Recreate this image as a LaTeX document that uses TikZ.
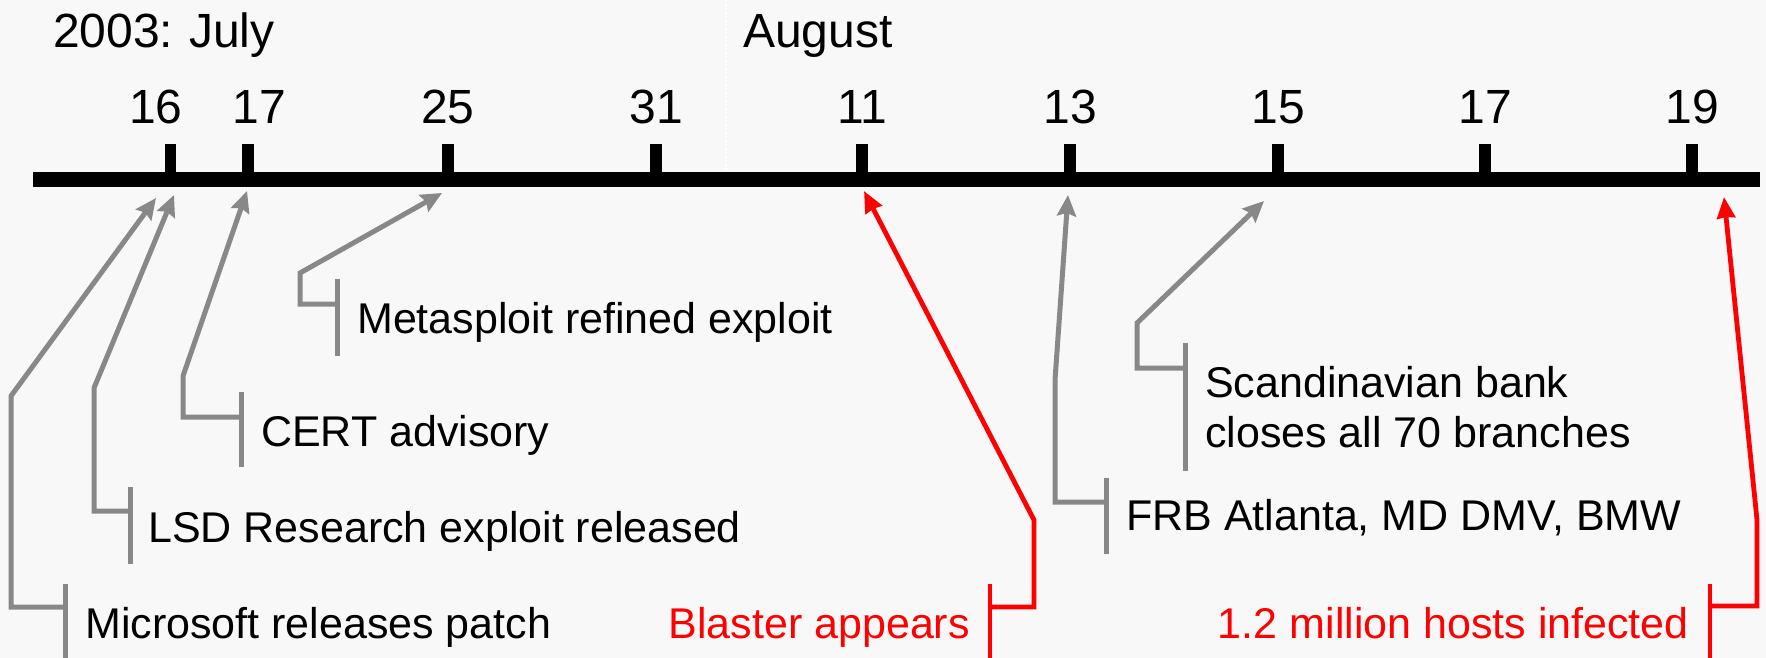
\documentclass[tikz,border=0pt]{standalone}
\usepackage{fontspec}
\setmainfont{Liberation Sans}
\usetikzlibrary{arrows.meta}
\definecolor{bg}{HTML}{F8F8F8}
\definecolor{lead}{HTML}{888888}
\definecolor{alert}{HTML}{FF0000}
\begin{document}
\begin{tikzpicture}[x=1pt,y=-1pt,
  heading/.style={font=\fontsize{48}{56}\selectfont, anchor=base west, inner sep=0pt},
  daynum/.style={font=\fontsize{48}{56}\selectfont, anchor=base, inner sep=0pt},
  evt/.style={font=\fontsize{43}{50}\selectfont, anchor=base west, inner sep=0pt, align=left},
  evtred/.style={evt, anchor=base east, text=alert},
  tick/.style={fill=black, draw=none, minimum width=11.5pt, minimum height=36pt, inner sep=0pt, anchor=north},
  bracket/.style={line width=5pt, draw=lead},
  pointer/.style={line width=5pt, draw=lead, -{Stealth[length=21pt,width=19pt,inset=3pt]}},
  bracketred/.style={line width=4.8pt, draw=alert},
  pointerred/.style={line width=4.8pt, draw=alert, -{Stealth[length=21pt,width=18pt,inset=1pt]}},
]
\useasboundingbox (0,0) rectangle (1766,658);
\fill[bg] (0,0) rectangle (1766,658);

% month boundary
\draw[white, line width=2pt, dotted] (726,0) -- (726,172);

% headings
\node[heading] (year) at (53,48) {2003:\kern-2pt{} July};
\node[heading] (aug) at (743,48) {August};

% timeline bar and ticks
\coordinate (barL) at (33,179.5);
\coordinate (barR) at (1760,179.5);
\draw[line width=15pt] (barL) -- (barR);
\foreach \n/\x in {t16/170.5, t17/248, t25/448, t31/656, a11/862, a13/1070, a15/1278, a17/1485, a19/1692}
  \node[tick] (\n) at (\x,144) {};

% day numbers
\node[daynum] (d16) at (156,124) {16};
\node[daynum] (d17) at (259.5,124) {17};
\node[daynum] (d25) at (448,124) {25};
\node[daynum] (d31) at (656,124) {31};
\node[daynum] (e11) at (862,124) {11};
\node[daynum] (e13) at (1070,124) {13};
\node[daynum] (e15) at (1278,124) {15};
\node[daynum] (e17) at (1485,124) {17};
\node[daynum] (e19) at (1692,124) {19};

% arrow targets under the bar
\coordinate (tipMS) at (156,198);
\coordinate (tipLSD) at (174,195);
\coordinate (tipCERT) at (247,191);
\coordinate (tipMeta) at (442,193);
\coordinate (tipBlaster) at (864,191);
\coordinate (tipFRB) at (1068,195);
\coordinate (tipBank) at (1264,201);
\coordinate (tipHosts) at (1724,197);

% Microsoft releases patch
\node[evt] (ms) at (85,638) {Microsoft releases patch};
\draw[bracket] (65,584) -- (65,662);
\draw[pointer] (65,607) -- (11,607) -- (11,396) -- (tipMS);

% LSD Research exploit released
\node[evt] (lsd) at (148,542) {LSD Research exploit released};
\draw[bracket] (130,487) -- (130,564);
\draw[pointer] (130,511) -- (94,511) -- (94,388) -- (tipLSD);

% CERT advisory
\node[evt] (cert) at (261,446) {CERT advisory};
\draw[bracket] (241,392) -- (241,467);
\draw[pointer] (241,417) -- (183,417) -- (183,376) -- (tipCERT);

% Metasploit refined exploit
\node[evt] (meta) at (357,333) {Metasploit refined exploit};
\draw[bracket] (337,279) -- (337,356);
\draw[pointer] (337,304) -- (300,304) -- (300,273) -- (tipMeta);

% Blaster appears
\node[evtred] (blaster) at (970,638) {Blaster appears};
\draw[bracketred] (990,584) -- (990,662);
\draw[pointerred] (990,607) -- (1034,607) -- (1034,520) -- (tipBlaster);

% FRB Atlanta, MD DMV, BMW
\node[evt] (frb) at (1126,530) {FRB Atlanta, MD DMV, BMW};
\draw[bracket] (1106,478) -- (1106,554);
\draw[pointer] (1106,502) -- (1055,502) -- (1055,380) -- (tipFRB);

% Scandinavian bank (base anchor sits on the last line)
\node[evt] (bank) at (1205,447) {Scandinavian bank\\closes all 70 branches};
\draw[bracket] (1185,343) -- (1185,471);
\draw[pointer] (1185,368) -- (1137,368) -- (1137,323) -- (tipBank);

% 1.2 million hosts infected
\node[evtred] (hosts) at (1689,638) {1.2 million hosts infected};
\draw[bracketred] (1710,584) -- (1710,662);
\draw[pointerred] (1710,606) -- (1757,606) -- (1757,520) -- (tipHosts);
\end{tikzpicture}
\end{document}
